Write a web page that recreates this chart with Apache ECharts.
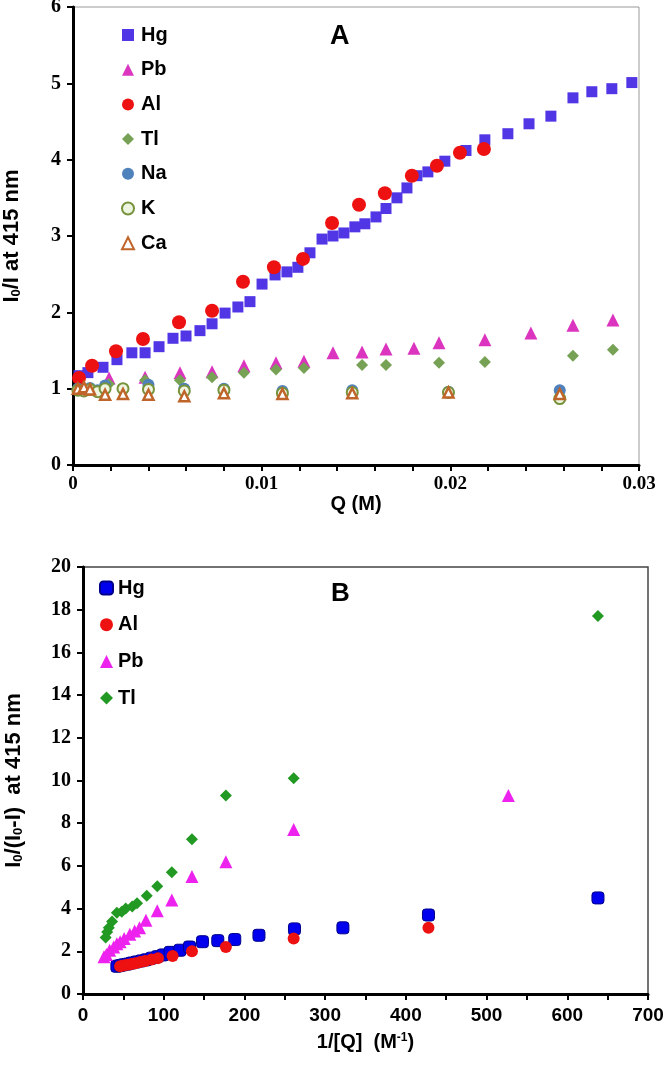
<!DOCTYPE html>
<html><head><meta charset="utf-8">
<script src="https://cdn.jsdelivr.net/npm/echarts/dist/echarts.min.js"></script>
<style>html,body{margin:0;padding:0;background:#fff}#c{width:666px;height:1066px}</style>
</head><body><div id="c"></div>
<script>
// ---------- Panel A: I0/I vs Q (M) ----------
const hgA = [[0.00032,1.17],[0.00079,1.21],[0.00159,1.28],[0.00233,1.38],[0.00312,1.47],[0.00382,1.47],[0.00456,1.55],[0.0053,1.66],[0.00599,1.69],[0.00673,1.76],[0.00737,1.85],[0.00806,1.99],[0.00874,2.07],[0.00938,2.14],[0.01002,2.37],[0.01071,2.49],[0.01134,2.53],[0.01192,2.59],[0.01256,2.78],[0.0132,2.96],[0.01378,3.0],[0.01436,3.04],[0.01494,3.12],[0.01547,3.16],[0.01606,3.25],[0.01659,3.36],[0.01717,3.5],[0.0177,3.63],[0.01823,3.79],[0.01881,3.84],[0.01971,3.98],[0.02083,4.12],[0.02183,4.26],[0.02305,4.34],[0.02417,4.47],[0.02533,4.57],[0.0265,4.81],[0.0275,4.89],[0.02856,4.93],[0.02962,5.01]];
const pbA = [[0.0005,1.03],[0.00191,1.14],[0.00382,1.15],[0.00567,1.21],[0.00737,1.22],[0.00906,1.3],[0.01076,1.34],[0.01224,1.36],[0.01378,1.47],[0.01532,1.48],[0.01659,1.52],[0.01807,1.53],[0.0194,1.6],[0.02183,1.64],[0.02427,1.73],[0.0265,1.83],[0.02862,1.9]];
const alA = [[0.00032,1.14],[0.00101,1.3],[0.00228,1.49],[0.00371,1.65],[0.00562,1.87],[0.00737,2.02],[0.00901,2.4],[0.01065,2.59],[0.01219,2.7],[0.01373,3.17],[0.01516,3.41],[0.01653,3.56],[0.01796,3.79],[0.01929,3.92],[0.02051,4.09],[0.02178,4.14]];
const tlA = [[0.00053,0.98],[0.0019,1.06],[0.00382,1.11],[0.00567,1.11],[0.00737,1.15],[0.00906,1.21],[0.01076,1.25],[0.01224,1.27],[0.01532,1.31],[0.01659,1.31],[0.0194,1.34],[0.02183,1.35],[0.0265,1.43],[0.02862,1.51]];
const naA = [[0.00026,1.0],[0.00058,0.98],[0.0009,1.01],[0.0013,0.98],[0.0017,1.04],[0.00265,1.0],[0.004,1.05],[0.0059,1.0],[0.008,1.0],[0.0111,0.97],[0.0148,0.98],[0.0199,0.96],[0.0258,0.98]];
const kA = [[0.00026,0.98],[0.00058,0.97],[0.0009,0.99],[0.0013,0.96],[0.0017,1.0],[0.00265,1.0],[0.004,0.99],[0.0059,0.97],[0.008,0.98],[0.0111,0.94],[0.0148,0.95],[0.0199,0.95],[0.0258,0.87]];
const caA = [[0.00026,1.0],[0.00058,1.02],[0.0009,0.99],[0.0017,0.92],[0.00265,0.93],[0.004,0.92],[0.0059,0.9],[0.008,0.94],[0.0111,0.93],[0.0148,0.94],[0.0199,0.95],[0.0258,0.93]];

// ---------- Panel B: I0/(I0-I) vs 1/[Q] ----------
const hgB = [[42,1.3],[46,1.33],[50,1.37],[55,1.4],[60,1.45],[66,1.5],[72,1.55],[78,1.6],[85,1.68],[92,1.75],[99,1.83],[108,1.95],[120,2.05],[132,2.2],[148,2.45],[167,2.5],[188,2.55],[218,2.75],[262,3.05],[322,3.1],[428,3.7],[638,4.5]];
const alB = [[46,1.3],[50,1.33],[55,1.37],[60,1.4],[65,1.44],[71,1.5],[77,1.55],[85,1.62],[93,1.68],[111,1.78],[135,2.0],[177,2.2],[261,2.6],[428,3.1]];
const pbB = [[26,1.75],[29,1.85],[33,2.05],[38,2.2],[42,2.35],[46,2.45],[51,2.6],[58,2.8],[64,2.95],[70,3.1],[78,3.45],[92,3.9],[110,4.4],[135,5.5],[177,6.2],[261,7.7],[527,9.3]];
const tlB = [[28,2.65],[30,2.9],[32,3.1],[36,3.4],[42,3.8],[48,3.85],[53,4.0],[61,4.1],[67,4.25],[79,4.6],[92,5.05],[110,5.7],[135,7.25],[177,9.3],[261,10.1],[638,17.7]];

const xTicksA = {min: 0, max: 0.03, interval: 0.01};
const yTicksA = {min: 0, max: 6, interval: 1};
const xTicksB = {min: 0, max: 700, interval: 100};
const yTicksB = {min: 0, max: 20, interval: 2};

const SANS = "'Liberation Sans', Arial, sans-serif";
const SERIF = "'Liberation Serif', 'Times New Roman', serif";

function axisCommon(labelFont, labelSize, margin) {
  return {
    axisLine: {show: true, onZero: false, lineStyle: {color: '#000', width: 3}},
    axisTick: {show: true, inside: false, length: 6, lineStyle: {color: '#000', width: 2}},
    splitLine: {show: false},
    axisLabel: {color: '#000', fontFamily: labelFont, fontWeight: 'bold', fontSize: labelSize, margin: margin},
  };
}

const chart = echarts.init(document.getElementById('c'), null, {renderer: 'canvas'});
const titleRich = {
  t: {fontFamily: SANS, fontWeight: 'bold', fontSize: 22, color: '#000'},
  s: {fontFamily: SANS, fontWeight: 'bold', fontSize: 13, color: '#000', verticalAlign: 'bottom', lineHeight: 13},
  p: {fontFamily: SANS, fontWeight: 'bold', fontSize: 12, color: '#000', verticalAlign: 'top', lineHeight: 12}
};
const titleRichX = {
  t: {fontFamily: SANS, fontWeight: 'bold', fontSize: 20, color: '#000'},
  p: {fontFamily: SANS, fontWeight: 'bold', fontSize: 12, color: '#000', verticalAlign: 'top', lineHeight: 12}
};

chart.setOption({
  animation: false,
  backgroundColor: '#fff',
  grid: [
    {left: 73, top: 7, width: 566, height: 458, show: true, borderColor: '#999', borderWidth: 1, backgroundColor: 'transparent', containLabel: false, outerBoundsMode: 'none'},
    {left: 83, top: 567, width: 565, height: 427, show: true, borderColor: '#444', borderWidth: 1.5, backgroundColor: 'transparent', containLabel: false, outerBoundsMode: 'none'}
  ],
  xAxis: [
    Object.assign(axisCommon(SERIF, 19, 10), {
      type: 'value', gridIndex: 0, min: xTicksA.min, max: xTicksA.max, interval: xTicksA.interval,
      minorTick: {show: true, splitNumber: 5, length: 6, lineStyle: {color: '#000', width: 2}},
      minorSplitLine: {show: false},
      name: 'Q (M)', nameLocation: 'middle', nameGap: 29,
      nameTextStyle: {fontFamily: SANS, fontWeight: 'bold', fontSize: 20, color: '#000'}
    }),
    Object.assign(axisCommon(SANS, 19, 12), {
      type: 'value', gridIndex: 1, min: xTicksB.min, max: xTicksB.max, interval: xTicksB.interval,
      minorTick: {show: true, splitNumber: 2, length: 6, lineStyle: {color: '#000', width: 2}},
      minorSplitLine: {show: false},
      name: '{t|1/[Q]  (M}{p|-1}{t|)}', nameLocation: 'middle', nameGap: 38,
      nameTextStyle: {rich: titleRichX}
    })
  ],
  yAxis: [
    Object.assign(axisCommon(SERIF, 20, 12), {
      type: 'value', gridIndex: 0, min: yTicksA.min, max: yTicksA.max, interval: yTicksA.interval,
      name: '{t|I}{s|0}{t|/I at 415 nm}', nameLocation: 'middle', nameGap: 50,
      nameTextStyle: {rich: titleRich}
    }),
    Object.assign(axisCommon(SERIF, 20, 12), {
      type: 'value', gridIndex: 1, min: yTicksB.min, max: yTicksB.max, interval: yTicksB.interval,
      name: '{t|I}{s|0}{t|/(I}{s|0}{t|-I)  at 415 nm}', nameLocation: 'middle', nameGap: 58,
      nameTextStyle: {rich: titleRich}
    })
  ],
  legend: [
    {
      orient: 'vertical', left: 121, top: 25, padding: 0, itemWidth: 12, itemHeight: 12, itemGap: 14.7,
      data: ['Hg', 'Pb', 'Al', 'Tl', 'Na', 'K', 'Ca'],
      textStyle: {fontFamily: SANS, fontWeight: 'bold', fontSize: 20, color: '#000', lineHeight: 20, padding: [0, 0, 0, 2]},
      selectedMode: false
    },
    {
      orient: 'vertical', left: 99, top: 578, padding: 0, itemWidth: 13, itemHeight: 13, itemGap: 16.7,
      data: ['Hg ', 'Al ', 'Pb ', 'Tl '],
      formatter: function (n) { return n.trim(); },
      textStyle: {fontFamily: SANS, fontWeight: 'bold', fontSize: 20, color: '#000', lineHeight: 20},
      selectedMode: false
    }
  ],
  graphic: [
    {type: 'text', left: 330, top: 23, style: {text: 'A', fontFamily: SANS, fontWeight: 'bold', fontSize: 27, fill: '#000'}},
    {type: 'text', left: 331, top: 581, style: {text: 'B', fontFamily: SANS, fontWeight: 'bold', fontSize: 26, fill: '#000'}}
  ],
  series: [
    {name: 'Hg', type: 'scatter', xAxisIndex: 0, yAxisIndex: 0, data: hgA, symbol: 'rect', symbolSize: 11, itemStyle: {color: '#5136E6', opacity: 1}},
    {name: 'Pb', type: 'scatter', xAxisIndex: 0, yAxisIndex: 0, data: pbA, symbol: 'triangle', symbolSize: 13, itemStyle: {color: '#DB35C0', opacity: 1}},
    {name: 'Al', type: 'scatter', xAxisIndex: 0, yAxisIndex: 0, data: alA, symbol: 'circle', symbolSize: 14, itemStyle: {color: '#EE1111', opacity: 1}},
    {name: 'Tl', type: 'scatter', xAxisIndex: 0, yAxisIndex: 0, data: tlA, symbol: 'diamond', symbolSize: 12, itemStyle: {color: '#77A255', opacity: 1}},
    {name: 'Na', type: 'scatter', xAxisIndex: 0, yAxisIndex: 0, data: naA, symbol: 'circle', symbolSize: 12, itemStyle: {color: '#4F81BD', opacity: 1}},
    {name: 'K', type: 'scatter', xAxisIndex: 0, yAxisIndex: 0, data: kA, symbol: 'circle', symbolSize: 11, itemStyle: {color: '#EEF5E0', borderColor: '#77933C', borderWidth: 2, opacity: 1}},
    {name: 'Ca', type: 'scatter', xAxisIndex: 0, yAxisIndex: 0, data: caA, symbol: 'triangle', symbolSize: 10, itemStyle: {color: '#FFFFFF', borderColor: '#C0652A', borderWidth: 2.5, opacity: 1}},

    {name: 'Hg ', type: 'scatter', xAxisIndex: 1, yAxisIndex: 1, data: hgB, symbol: 'roundRect', symbolSize: 12, itemStyle: {color: '#0000EE', borderColor: '#00008B', borderWidth: 1, opacity: 1}},
    {name: 'Al ', type: 'scatter', xAxisIndex: 1, yAxisIndex: 1, data: alB, symbol: 'circle', symbolSize: 12, itemStyle: {color: '#EE1111', opacity: 1}},
    {name: 'Pb ', type: 'scatter', xAxisIndex: 1, yAxisIndex: 1, data: pbB, symbol: 'triangle', symbolSize: 13, itemStyle: {color: '#EE22EE', opacity: 1}},
    {name: 'Tl ', type: 'scatter', xAxisIndex: 1, yAxisIndex: 1, data: tlB, symbol: 'diamond', symbolSize: 12, itemStyle: {color: '#229922', opacity: 1}}
  ]
});
</script>
</body></html>
